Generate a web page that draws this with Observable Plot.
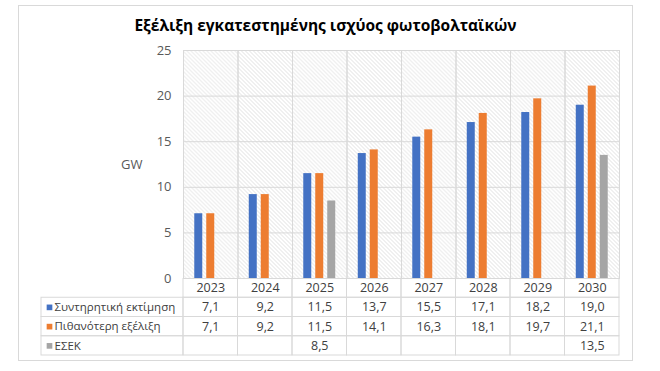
<!DOCTYPE html>
<html><head><meta charset="utf-8">
<script src="https://cdn.jsdelivr.net/npm/d3@7"></script>
<script src="https://cdn.jsdelivr.net/npm/@observablehq/plot@0.6"></script>
<style>
body{margin:0;background:#fff;}
#wrap{position:relative;width:660px;height:371px;overflow:hidden;font-family:"Open Sans",sans-serif;background:#fff;}
#border{position:absolute;left:18px;top:5px;width:613px;height:354px;border:1px solid #d9d9d9;}
#title{position:absolute;left:18px;width:615px;top:14px;text-align:center;font-weight:bold;font-size:15.5px;color:#000;}
#gw{position:absolute;left:121px;top:155px;font-size:13px;color:#595959;}
#chart,#labels,#table{position:absolute;left:0;}
#chart{top:40px;}
#labels,#table{top:278px;}
</style></head>
<body>
<div id="wrap">
  <div id="border"></div>
  <div id="title">Εξέλιξη εγκατεστημένης ισχύος φωτοβολταϊκών</div>
  <div id="gw">GW</div>
  <div id="chart"></div>
  <div id="table"></div>
  <div id="labels"></div>
</div>
<script>
const years = [2023, 2024, 2025, 2026, 2027, 2028, 2029, 2030];
const seriesNames = ["Συντηρητική εκτίμηση", "Πιθανότερη εξέλιξη", "ΕΣΕΚ"];
const conservative = [7.1, 9.2, 11.5, 13.7, 15.5, 17.1, 18.2, 19.0];
const likely = [7.1, 9.2, 11.5, 14.1, 16.3, 18.1, 19.7, 21.1];
const esek = [null, null, 8.5, null, null, null, null, 13.5];
const yTicks = [0, 5, 10, 15, 20, 25];
const colors = ["#4472C4", "#ED7D31", "#A5A5A5"];

const seriesValues = [conservative, likely, esek];
const data = [];
seriesValues.forEach((vals, si) => {
  vals.forEach((v, i) => {
    if (v != null) data.push({year: years[i], series: seriesNames[si], value: v});
  });
});
const fmt = v => d3.format(".1f")(v).replace(".", ",");
const grid = "#d9d9d9";
const FONT = "'Open Sans', sans-serif";

// main chart
const chart = Plot.plot({
  width: 660,
  height: 250,
  marginTop: 10,
  marginBottom: 12,
  marginLeft: 183,
  marginRight: 41,
  style: {background: "transparent", fontFamily: FONT, fontSize: "13px", color: "#595959"},
  fx: {domain: years, padding: 0, round: false, axis: null},
  x: {domain: seriesNames, paddingInner: 1/3, paddingOuter: 0.94, round: false, axis: null},
  y: {domain: [0, 25], ticks: yTicks},
  color: {domain: seriesNames, range: colors},
  marks: [
    Plot.frame({fill: "url(#hatch)", stroke: null}),
    Plot.gridY(yTicks, {stroke: grid, strokeOpacity: 1}),
    Plot.frame({stroke: grid, strokeOpacity: 1}),
    Plot.axisY(yTicks, {tickSize: 0, tickPadding: 12, label: null, fill: "#595959", fontSize: 13}),
    Plot.barY(data, {fx: "year", x: "series", y: "value", fill: "series"})
  ]
});
d3.select(chart).insert("defs", ":first-child").html(
  `<pattern id="hatch" patternUnits="userSpaceOnUse" width="4" height="4">
     <rect width="4" height="4" fill="#ffffff"/>
     <path d="M0,0 L4,4 M-1,3 L1,5 M3,-1 L5,1" stroke="#dedede" stroke-width="0.9"/>
   </pattern>`);
document.getElementById("chart").appendChild(chart);

// data table
const rows = ["hdr", ...seriesNames];
const cells = [];
years.forEach(y => rows.forEach(r => cells.push({year: y, row: r})));
const table = Plot.plot({
  width: 660,
  height: 78,
  marginTop: 0,
  marginBottom: 1,
  marginLeft: 183,
  marginRight: 41,
  style: {background: "transparent", fontFamily: FONT},
  x: {type: "band", domain: years, padding: 0, round: false, axis: null},
  y: {type: "band", domain: rows, padding: 0, round: false, axis: null},
  marks: [
    Plot.cell(cells, {x: "year", y: "row", fill: "none", stroke: grid, strokeOpacity: 1}),
    Plot.text(years, {x: d => d, y: () => "hdr", text: d => String(d), fill: "#404040", fontSize: 12.5}),
    Plot.text(data, {x: "year", y: "series", text: d => fmt(d.value), fill: "#404040", fontSize: 12.5})
  ]
});
document.getElementById("table").appendChild(table);

// legend / label column of the table
const labels = Plot.plot({
  width: 184,
  height: 78,
  marginTop: 0,
  marginBottom: 1,
  marginLeft: 41,
  marginRight: 1,
  style: {background: "transparent", fontFamily: FONT},
  x: {type: "band", domain: ["lbl"], padding: 0, axis: null},
  y: {type: "band", domain: rows, padding: 0, round: false, axis: null},
  color: {domain: seriesNames, range: colors},
  marks: [
    Plot.cell(seriesNames, {x: () => "lbl", y: d => d, fill: "none", stroke: grid, strokeOpacity: 1}),
    Plot.dot(seriesNames, {y: d => d, frameAnchor: "left", dx: 8, symbol: "square", r: 3.2, fill: d => d}),
    Plot.text(seriesNames, {y: d => d, frameAnchor: "left", dx: 13, textAnchor: "start", text: d => d, fill: "#404040", fontSize: 11.5})
  ]
});
document.getElementById("labels").appendChild(labels);
</script>
</body></html>
